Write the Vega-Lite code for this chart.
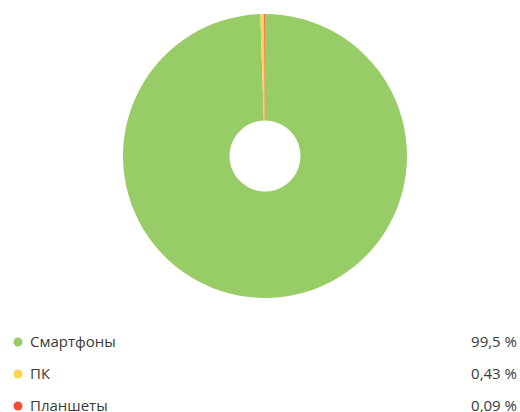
{
  "$schema": "https://vega.github.io/schema/vega-lite/v6.json",
  "padding": {"left": 10, "top": 14, "right": 0, "bottom": 0},
  "background": "white",
  "config": {"view": {"stroke": null}, "font": "Open Sans"},
  "data": {
    "values": [
      {"device": "Смартфоны", "share": 99.48, "label": "99,5 %"},
      {"device": "ПК", "share": 0.43, "label": "0,43 %"},
      {"device": "Планшеты", "share": 0.09, "label": "0,09 %"}
    ]
  },
  "spacing": 37,
  "vconcat": [
    {
      "width": 510,
      "height": 284,
      "mark": {"type": "arc", "outerRadius": 142, "innerRadius": 35.5},
      "encoding": {
        "theta": {"field": "share", "type": "quantitative", "stack": true},
        "order": {"field": "share", "type": "quantitative", "sort": "descending"},
        "color": {
          "field": "device",
          "type": "nominal",
          "legend": null,
          "scale": {"domain": ["Смартфоны", "ПК", "Планшеты"], "range": ["#98cc67", "#ffd54f", "#f44d30"]}
        }
      }
    },
    {
      "width": 510,
      "height": 64,
      "encoding": {
        "y": {"field": "device", "type": "nominal", "sort": null, "axis": null, "scale": {"type": "point", "padding": 0}}
      },
      "layer": [
        {
          "mark": {"type": "circle", "size": 80, "opacity": 1},
          "encoding": {
            "x": {"value": 8},
            "color": {
              "field": "device",
              "type": "nominal",
              "legend": null,
              "scale": {"domain": ["Смартфоны", "ПК", "Планшеты"], "range": ["#98cc67", "#ffd54f", "#f44d30"]}
            }
          }
        },
        {
          "mark": {"type": "text", "align": "left", "baseline": "middle", "fontSize": 15, "color": "#3a3a3a"},
          "encoding": {"x": {"value": 20}, "text": {"field": "device"}}
        },
        {
          "mark": {"type": "text", "align": "right", "baseline": "middle", "fontSize": 15, "color": "#3a3a3a"},
          "encoding": {"x": {"value": 507}, "text": {"field": "label"}}
        }
      ]
    }
  ]
}
